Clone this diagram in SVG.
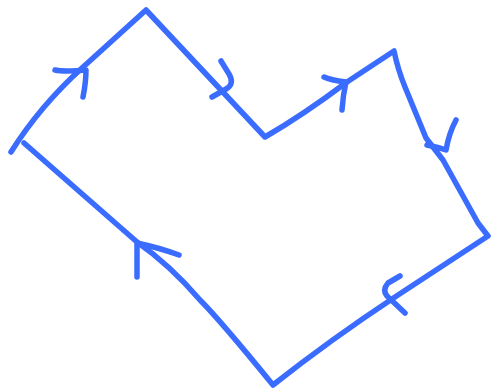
<svg xmlns="http://www.w3.org/2000/svg" width="492" height="392" viewBox="0 0 492 392">
<style>
.s{fill:none;stroke:#3a6cff;stroke-width:5.5;stroke-linecap:round;stroke-linejoin:round}
</style>
<rect width="492" height="392" fill="#fff"/>
<g id="outline">
<path class="s" d="M11,152 Q40,106 82,68 L146,10 L265,137 Q303,115 347,82 L394,51 Q398,70 405,87 L426,138 L443,160 L478,223 L488,236 L395,297 Q330,340 273,385 Q220,320 200,300 Q170,265 137,242 L24,143"/>
</g>
<g id="arrows">
<path class="s" d="M55,70 Q64,72 86,70 Q86,82 83,97"/>
<path class="s" d="M221,61 L229,74 Q235,84 226,89 L212,97"/>
<path class="s" d="M324,77 Q330,80 346,82 Q343,95 342,110"/>
<path class="s" d="M456,120 Q449,133 446,150 Q437,147 427,145"/>
<path class="s" d="M400,276 L388,283 Q382,290 387,296 L405,313"/>
<path class="s" d="M179,255 Q160,248 137,243 Q137,260 137,277"/>
</g>
</svg>
